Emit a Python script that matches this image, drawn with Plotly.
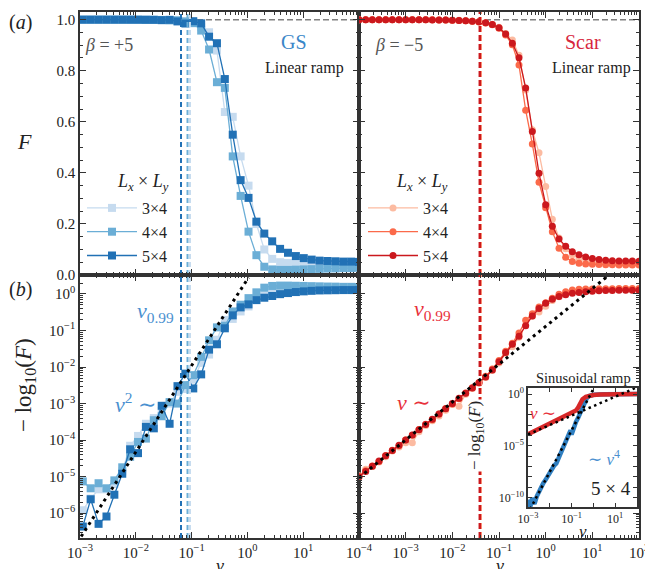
import numpy as np
import plotly.graph_objects as go

W, H = 653, 569
OFF = 8  # default page margin of the html body
FW, FH = W - OFF, H - OFF
SERIF = "Liberation Serif, Times New Roman, DejaVu Serif, serif"
FRAME = "#333333"

# ---------------- data ----------------
# velocity grids (7 points per decade)
v_gs = np.logspace(-2.95, 2.0, 36)     # beta=+5 (ground state)
v_scar = np.logspace(-4.0, 2.0, 43)    # beta=-5 (scar)

# infidelity  -log10(F)  for the linear ramp, beta = +5
infid_gs_3x4 = [1.2e-6, 2.5e-6, 4.5e-6, 4.5e-6, 6.3e-6, 1.4e-5, 7.0e-5, 1.3e-4, 2.8e-4, 4.0e-4,
                6.3e-4, 1.0e-3, 2.1e-3, 2.5e-3, 4.5e-3, 0.013, 0.022, 0.056, 0.195, 0.208,
                0.333, 0.456, 0.70, 1.00, 1.20, 1.30, 1.33, 1.34, 1.35, 1.35,
                1.35, 1.35, 1.35, 1.35, 1.35, 1.35]
infid_gs_4x4 = [7.4e-6, 4.8e-6, 6.6e-6, 4.8e-6, 7.9e-6, 1.8e-5, 3.5e-5, 8.9e-5, 1.1e-4, 3.5e-4,
                4.5e-4, 1.1e-3, 1.0e-3, 3.2e-3, 6.0e-3, 0.019, 0.054, 0.122, 0.135, 0.333,
                0.509, 0.77, 1.11, 1.49, 1.66, 1.70, 1.70, 1.68, 1.66, 1.64,
                1.62, 1.60, 1.59, 1.57, 1.57, 1.55]
infid_gs_5x4 = [4.3e-7, 2.4e-6, 5.1e-7, 8.1e-7, 3.2e-6, 1.2e-5, 5.6e-5, 4.4e-5, 2.3e-4, 2.1e-4,
                8.7e-4, 2.8e-4, 3.0e-3, 6.6e-3, 2.6e-3, 6.3e-3, 0.030, 0.042, 0.115, 0.26,
                0.43, 0.52, 0.68, 0.79, 0.88, 0.99, 1.06, 1.13, 1.18, 1.22,
                1.25, 1.26, 1.27, 1.28, 1.28, 1.29]

# infidelity -log10(F) for the linear ramp, beta = -5
infid_scar_3x4 = [1.05e-5, 1.6e-5, 1.9e-5, 2.5e-5, 3.5e-5, 5.0e-5, 6.5e-5, 8.5e-5, 8.5e-5, 1.7e-4,
                  2.5e-4, 3.4e-4, 4.6e-4, 6.6e-4, 9.5e-4, 8.5e-4, 1.8e-3, 2.6e-3, 3.6e-3, 5.2e-3,
                  8.0e-3, 0.013, 0.024, 0.036, 0.065, 0.14, 0.245, 0.32, 0.46, 0.66,
                  0.84, 0.99, 1.10, 1.18, 1.23, 1.26, 1.28, 1.29, 1.30, 1.30,
                  1.31, 1.31, 1.31]
infid_scar_4x4 = [1.0e-5, 1.45e-5, 1.95e-5, 2.6e-5, 3.8e-5, 5.3e-5, 7.0e-5, 1.0e-4, 1.35e-4, 1.95e-4,
                  2.7e-4, 3.6e-4, 5.2e-4, 7.3e-4, 9.8e-4, 1.35e-3, 1.95e-3, 2.7e-3, 3.8e-3, 5.6e-3,
                  8.8e-3, 0.015, 0.027, 0.045, 0.085, 0.19, 0.29, 0.44, 0.58, 0.77,
                  0.98, 1.16, 1.28, 1.34, 1.37, 1.38, 1.39, 1.40, 1.40, 1.41,
                  1.41, 1.41, 1.41]
infid_scar_5x4 = [1.0e-5, 1.39e-5, 1.93e-5, 2.68e-5, 3.73e-5, 5.18e-5, 7.2e-5, 1.0e-4, 1.39e-4, 1.93e-4,
                  2.68e-4, 3.73e-4, 5.18e-4, 7.2e-4, 1.0e-3, 1.39e-3, 1.93e-3, 2.68e-3, 3.73e-3, 5.3e-3,
                  8.3e-3, 0.014, 0.025, 0.042, 0.070, 0.135, 0.25, 0.40, 0.56, 0.72,
                  0.85, 0.95, 1.04, 1.10, 1.15, 1.19, 1.22, 1.24, 1.25, 1.26,
                  1.26, 1.26, 1.27]

# v_0.99 markers
v099_gs = [0.0935, 0.0845, 0.0646]       # 3x4, 4x4, 5x4
v099_scar = [0.0405, 0.0396, 0.0388]

# power-law guide lines (end points)
guide_gs_v = [10 ** -2.98, 10 ** 0.02]
guide_gs_y = [10 ** -6.64, 10 ** 0.45]
guide_scar_v = [1e-4, 10 ** 1.31]
guide_scar_y = [10 ** -5.03, 10 ** 0.47]

# inset: sinusoidal ramp, 5x4
ins_v_scar = [1e-3, 1e-2, 10 ** -1.5, 0.1, 10 ** -0.8, 10 ** -0.7, 10 ** -0.6, 10 ** -0.5, 10 ** -0.35,
              10 ** -0.2, 1.0, 2.0, 4.0, 10.0, 100.0]
ins_y_scar = [10 ** -3.89, 10 ** -2.87, 10 ** -2.35, 10 ** -1.85, 10 ** -1.6, 10 ** -1.3, 10 ** -0.85,
              10 ** -0.5, 10 ** -0.28, 10 ** -0.17, 10 ** -0.1, 10 ** -0.05, 10 ** -0.03, 10 ** -0.01, 1.0]
ins_logv_gs = [-3.0, -2.95, -2.9, -2.85, -2.8, -2.75, -2.7, -2.6, -2.5, -2.4, -2.3, -2.2, -2.1, -2.0,
               -1.9, -1.8, -1.7, -1.6, -1.5, -1.4, -1.3, -1.2, -1.1, -1.05, -1.0, -0.95, -0.9, -0.8,
               -0.7, -0.6, -0.5, -0.4, -0.3, -0.2, 0.0, 0.5, 1.0, 2.0]
ins_logy_gs = [-10.2, -10.6, -10.9, -10.5, -10.0, -10.4, -10.6, -9.9, -9.4, -9.0, -8.6, -8.3, -7.9, -7.5,
               -7.1, -6.9, -6.7, -6.2, -5.8, -5.4, -4.8, -4.3, -3.7, -3.5, -3.9, -3.6, -3.1, -2.7,
               -2.3, -1.8, -1.2, -0.7, -0.4, -0.2, -0.08, -0.02, 0.0, 0.0]
ins_guide1_v = [1e-3, 100.0]
ins_guide1_y = [10 ** -3.9, 10 ** 0.65]
ins_guide4_v = [10 ** -2.9, 10 ** 0.1]
ins_guide4_y = [10 ** -11.1, 10 ** 0.9]

labels = ["3×4", "4×4", "5×4"]
blues = ["#c6dbef", "#6baed6", "#2171b5"]
reds = ["#fcbba1", "#fb6a4a", "#cb181d"]

# ---------------- figure ----------------
fig = go.Figure()


def px_x(x):
    return (x - OFF) / FW


def px_y(y):
    return 1 - (y - OFF) / FH


TOP_LO, TOP_HI = 0.0, 1.03
BOT_LO, BOT_HI = -6.68, 0.52

# grey reference lines at F = 1
fig.add_trace(go.Scatter(x=[1e-3, 1e2], y=[1, 1], xaxis="x", yaxis="y", mode="lines",
                         line=dict(color="#808080", width=1.5, dash="6px,3px"), showlegend=False))
fig.add_trace(go.Scatter(x=[1e-4, 1e2], y=[1, 1], xaxis="x2", yaxis="y2", mode="lines",
                         line=dict(color="#808080", width=1.5, dash="6px,3px"), showlegend=False))

gs_sets = [infid_gs_3x4, infid_gs_4x4, infid_gs_5x4]
scar_sets = [infid_scar_3x4, infid_scar_4x4, infid_scar_5x4]

for lab, col, inf in zip(labels, blues, gs_sets):
    inf = np.array(inf)
    fig.add_trace(go.Scatter(x=v_gs, y=10 ** (-inf), xaxis="x", yaxis="y", mode="lines+markers",
                             name=lab, legend="legend",
                             line=dict(color=col, width=1.3),
                             marker=dict(symbol="square", size=8, color=col)))
    fig.add_trace(go.Scatter(x=v_gs, y=inf, xaxis="x3", yaxis="y3", mode="lines+markers",
                             showlegend=False, line=dict(color=col, width=1.3),
                             marker=dict(symbol="square", size=8, color=col)))

for lab, col, inf in zip(labels, reds, scar_sets):
    inf = np.array(inf)
    fig.add_trace(go.Scatter(x=v_scar, y=10 ** (-inf), xaxis="x2", yaxis="y2", mode="lines+markers",
                             name=lab, legend="legend2",
                             line=dict(color=col, width=1.3),
                             marker=dict(symbol="circle", size=7, color=col)))
    fig.add_trace(go.Scatter(x=v_scar, y=inf, xaxis="x4", yaxis="y4", mode="lines+markers",
                             showlegend=False, line=dict(color=col, width=1.3),
                             marker=dict(symbol="circle", size=7, color=col)))

# v_0.99 vertical dashed lines
for v, col in zip(v099_gs, blues):
    for xa, ya, yr in (("x", "y", [TOP_LO, TOP_HI]), ("x3", "y3", [10 ** BOT_LO, 10 ** BOT_HI])):
        fig.add_trace(go.Scatter(x=[v, v], y=yr, xaxis=xa, yaxis=ya, mode="lines", showlegend=False,
                                 line=dict(color=col, width=2, dash="5px,3px")))
for v, col in zip(v099_scar, reds):
    for xa, ya, yr in (("x2", "y2", [TOP_LO, TOP_HI]), ("x4", "y4", [10 ** BOT_LO, 10 ** BOT_HI])):
        fig.add_trace(go.Scatter(x=[v, v], y=yr, xaxis=xa, yaxis=ya, mode="lines", showlegend=False,
                                 line=dict(color=col, width=2.5, dash="6px,3px")))

# guide lines
fig.add_trace(go.Scatter(x=guide_gs_v, y=guide_gs_y, xaxis="x3", yaxis="y3", mode="lines",
                         showlegend=False, line=dict(color="black", width=3, dash="3px,4px")))
fig.add_trace(go.Scatter(x=guide_scar_v, y=guide_scar_y, xaxis="x4", yaxis="y4", mode="lines",
                         showlegend=False, line=dict(color="black", width=3, dash="3px,4px")))

# inset
fig.add_trace(go.Scatter(x=10 ** np.array(ins_logv_gs), y=10 ** np.array(ins_logy_gs), xaxis="x5", yaxis="y5",
                         mode="lines", showlegend=False, line=dict(color="#2f7fc1", width=4.5)))
fig.add_trace(go.Scatter(x=ins_v_scar, y=ins_y_scar, xaxis="x5", yaxis="y5",
                         mode="lines", showlegend=False, line=dict(color="#d62728", width=4.5)))
fig.add_trace(go.Scatter(x=ins_guide1_v, y=ins_guide1_y, xaxis="x5", yaxis="y5", mode="lines",
                         showlegend=False, line=dict(color="black", width=2.5, dash="2.5px,3.5px")))
fig.add_trace(go.Scatter(x=ins_guide4_v, y=ins_guide4_y, xaxis="x5", yaxis="y5", mode="lines",
                         showlegend=False, line=dict(color="black", width=2.5, dash="2.5px,3.5px")))

# ---------------- axes ----------------
TICKFONT = dict(family=SERIF, size=15, color="#222")
common = dict(showline=True, linecolor=FRAME, linewidth=1.5, mirror="allticks", ticks="inside",
              ticklen=6, tickwidth=1.2, tickcolor=FRAME, showgrid=False, zeroline=False,
              tickfont=TICKFONT, automargin=False)
minor_log = dict(ticks="inside", ticklen=3, tickwidth=1, tickcolor=FRAME, dtick="D1", showgrid=False)


def sup(e):
    s = str(e).replace("-", "−")
    return f"10<sup>{s}</sup>"


dec_l = [10.0 ** e for e in range(-3, 3)]
dec_r = [10.0 ** e for e in range(-4, 3)]
dec_y = [10.0 ** e for e in range(-6, 1)]

xl = [px_x(80), px_x(359)]
xr = [px_x(359), px_x(639)]
yt = [px_y(275), px_y(12)]
yb = [px_y(538), px_y(275)]

fig.update_layout(
    xaxis=dict(common, domain=xl, type="log", range=[-3, 2], anchor="y", tickvals=dec_l,
               showticklabels=False, minor=minor_log),
    xaxis2=dict(common, domain=xr, type="log", range=[-4, 2], anchor="y2", tickvals=dec_r,
                showticklabels=False, minor=minor_log),
    xaxis3=dict(common, domain=xl, type="log", range=[-3, 2], anchor="y3", tickvals=dec_l,
                ticktext=[sup(e) for e in range(-3, 2)] + [""], minor=minor_log),
    xaxis4=dict(common, domain=xr, type="log", range=[-4, 2], anchor="y4", tickvals=dec_r,
                ticktext=[sup(e) for e in range(-4, 3)], minor=minor_log),
    yaxis=dict(common, domain=yt, range=[TOP_LO, TOP_HI], anchor="x",
               tickvals=[0, 0.2, 0.4, 0.6, 0.8, 1.0],
               ticktext=["0.0", "0.2", "0.4", "0.6", "0.8", "1.0"],
               minor=dict(ticks="inside", ticklen=3, tickwidth=1, tickcolor=FRAME, dtick=0.05)),
    yaxis2=dict(common, domain=yt, range=[TOP_LO, TOP_HI], anchor="x2",
                tickvals=[0, 0.2, 0.4, 0.6, 0.8, 1.0], showticklabels=False,
                minor=dict(ticks="inside", ticklen=3, tickwidth=1, tickcolor=FRAME, dtick=0.05)),
    yaxis3=dict(common, domain=yb, type="log", range=[BOT_LO, BOT_HI], anchor="x3", tickvals=dec_y,
                ticktext=[sup(e) for e in range(-6, 1)], minor=minor_log),
    yaxis4=dict(common, domain=yb, type="log", range=[BOT_LO, BOT_HI], anchor="x4", tickvals=dec_y,
                showticklabels=False, minor=minor_log),
    xaxis5=dict(common, domain=[px_x(528), px_x(637)], type="log", range=[-3, 2], anchor="y5",
                tickvals=[10.0 ** e for e in range(-3, 3)],
                ticktext=[sup(-3), "", sup(-1), "", sup(1), ""],
                ticklen=4, tickfont=dict(family=SERIF, size=12, color="#222")),
    yaxis5=dict(common, domain=[px_y(507), px_y(388)], type="log", range=[-10.9, 0.58], anchor="x5",
                tickvals=[10.0 ** e for e in range(-10, 1)],
                ticktext=[sup(-10), "", "", "", "", sup(-5), "", "", "", "", sup(0)],
                ticklen=4, tickfont=dict(family=SERIF, size=12, color="#222")),
)

fig.update_layout(
    width=FW, height=FH, autosize=False,
    margin=dict(l=0, r=0, t=0, b=0, autoexpand=False),
    paper_bgcolor="white", plot_bgcolor="white",
    font=dict(family=SERIF, color="#222"),
    legend=dict(x=px_x(82), y=px_y(191), xanchor="left", yanchor="top", bgcolor="rgba(0,0,0,0)",
                font=dict(family=SERIF, size=16, color="#222"), itemwidth=50, tracegroupgap=0),
    legend2=dict(x=px_x(363), y=px_y(191), xanchor="left", yanchor="top", bgcolor="rgba(0,0,0,0)",
                 font=dict(family=SERIF, size=16, color="#222"), itemwidth=50, tracegroupgap=0),
)


def ann(x, y, text, size, color="#222", xanchor="center", yanchor="middle", angle=0, bg=None):
    d = dict(x=px_x(x), y=px_y(y), xref="paper", yref="paper", text=text, showarrow=False,
             xanchor=xanchor, yanchor=yanchor, textangle=angle,
             font=dict(family=SERIF, size=size, color=color))
    if bg:
        d["bgcolor"] = bg
    return d


BLUE_T = "#3a86c8"
RED_T = "#d7263d"
anns = [
    ann(20, 23, "(<i>a</i>)", 20),
    ann(20, 289, "(<i>b</i>)", 20),
    ann(24, 141, "<i>F</i>", 22),
    ann(25, 385, "− log<sub>10</sub>(<i>F</i>)", 23, angle=-90),
    ann(83, 45, "<i>β</i> = +5", 18, color="#555", xanchor="left"),
    ann(294, 42, "GS", 20, color=BLUE_T),
    ann(346, 68, "Linear ramp", 16, xanchor="right"),
    ann(373, 45, "<i>β</i> = −5", 18, color="#555", xanchor="left"),
    ann(583, 42, "Scar", 20, color=RED_T),
    ann(633, 68, "Linear ramp", 16, xanchor="right"),
    ann(143, 182, "<i>L<sub>x</sub></i> × <i>L<sub>y</sub></i>", 18),
    ann(422, 182, "<i>L<sub>x</sub></i> × <i>L<sub>y</sub></i>", 18),
    ann(155, 312, "<i>v</i><sub>0.99</sub>", 22, color="#4a90d0"),
    ann(135, 403, "<i>v</i><sup>2</sup> ∼", 22, color="#4a90d0"),
    ann(433, 310, "<i>v</i><sub>0.99</sub>", 22, color="#e8313b"),
    ann(414, 402, "<i>v</i> ∼", 22, color="#e8313b"),
    ann(220, 566, "<i>v</i>", 18),
    ann(500, 566, "<i>v</i>", 18),
    ann(583, 378, "Sinusoidal ramp", 14.5),
    ann(476, 436, "− log<sub>10</sub>(<i>F</i>)", 17, angle=-90, bg="white"),
    ann(583, 531, "<i>v</i>", 17),
    ann(611, 488, "5 × 4", 19),
    ann(543, 413, "<i>v</i> ∼", 17, color="#e8313b"),
    ann(604, 458, "∼ <i>v</i><sup>4</sup>", 17, color="#4a90d0"),
]
fig.update_layout(annotations=anns)

fig.write_html("out.html")
